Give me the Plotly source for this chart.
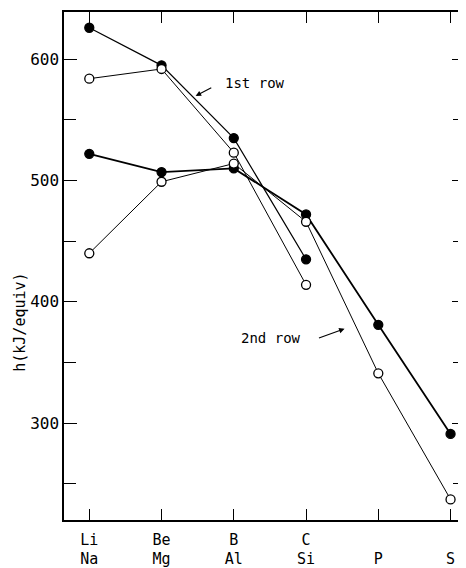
import plotly.graph_objects as go

row1_labels = ["Li", "Be", "B", "C"]
row2_labels = ["Na", "Mg", "Al", "Si", "P", "S"]
x1 = [0, 1, 2, 3]
x2 = [0, 1, 2, 3, 4, 5]
row1_filled = [626, 595, 535, 435]
row1_open = [584, 592, 523, 414]
row2_filled = [522, 507, 510, 472, 381, 291]
row2_open = [440, 499, 514, 466, 341, 237]
tick_text = ["Li<br>Na", "Be<br>Mg", "B<br>Al", "C<br>Si", "<br>P", "<br>S"]

FONT = "DejaVu Sans Mono"
fig = go.Figure()

def add(x, y, filled, lw):
    fig.add_trace(go.Scatter(
        x=x, y=y, mode="lines+markers",
        line=dict(color="black", width=lw),
        marker=dict(size=9, color="black" if filled else "white",
                    line=dict(color="black", width=1.3)),
        showlegend=False, cliponaxis=False))

add(x2, row2_filled, True, 1.8)
add(x1, row1_filled, True, 1.2)
add(x2, row2_open, False, 1.0)
add(x1, row1_open, False, 1.0)

fig.add_annotation(x=2.30, y=580.5, text="1st row", showarrow=False,
                   font=dict(size=14, family=FONT, color="black"))
fig.add_annotation(x=1.472, y=569.8, ax=1.709, ay=577.2, axref="x", ayref="y",
                   text="", showarrow=True, arrowhead=2, arrowsize=1, arrowwidth=1.1,
                   arrowcolor="black")
fig.add_annotation(x=2.51, y=370.5, text="2nd row", showarrow=False,
                   font=dict(size=14, family=FONT, color="black"))
fig.add_annotation(x=3.533, y=377.8, ax=3.158, ay=369.6, axref="x", ayref="y",
                   text="", showarrow=True, arrowhead=2, arrowsize=1, arrowwidth=1.1,
                   arrowcolor="black")
fig.add_annotation(xref="paper", yref="paper", x=-0.11, y=0.39, text="h(kJ/equiv)",
                   textangle=-90, showarrow=False, xanchor="center", yanchor="middle",
                   font=dict(size=15, family=FONT, color="black"))

# page body has an 8px margin, so the figure is 8px smaller in each direction
fig.update_layout(
    width=458, height=560,
    margin=dict(l=56, r=1, t=4, b=48),
    plot_bgcolor="white", paper_bgcolor="white",
    font=dict(family=FONT, size=16, color="black"),
)
fig.update_xaxes(
    range=[-0.35, 5.2], tickvals=x2, ticktext=tick_text, automargin=False,
    ticks="inside", ticklen=11, tickcolor="black", tickwidth=1,
    ticklabelstandoff=5,
    showline=True, linecolor="black", linewidth=1.5, mirror="ticks",
    showgrid=False, zeroline=False, tickfont=dict(size=15, family=FONT),
)
fig.update_yaxes(
    range=[220, 639], tickvals=[300, 400, 500, 600], automargin=False,
    ticks="inside", ticklen=13, tickcolor="black", tickwidth=1.2,
    minor=dict(tickvals=[250, 350, 450, 550], ticks="inside", ticklen=12,
               tickcolor="black", tickwidth=1.2, showgrid=False),
    showline=True, linecolor="black", linewidth=1.5, mirror="ticks",
    showgrid=False, zeroline=False,
    tickfont=dict(size=16, family=FONT),
)
fig.write_html("out.html")
